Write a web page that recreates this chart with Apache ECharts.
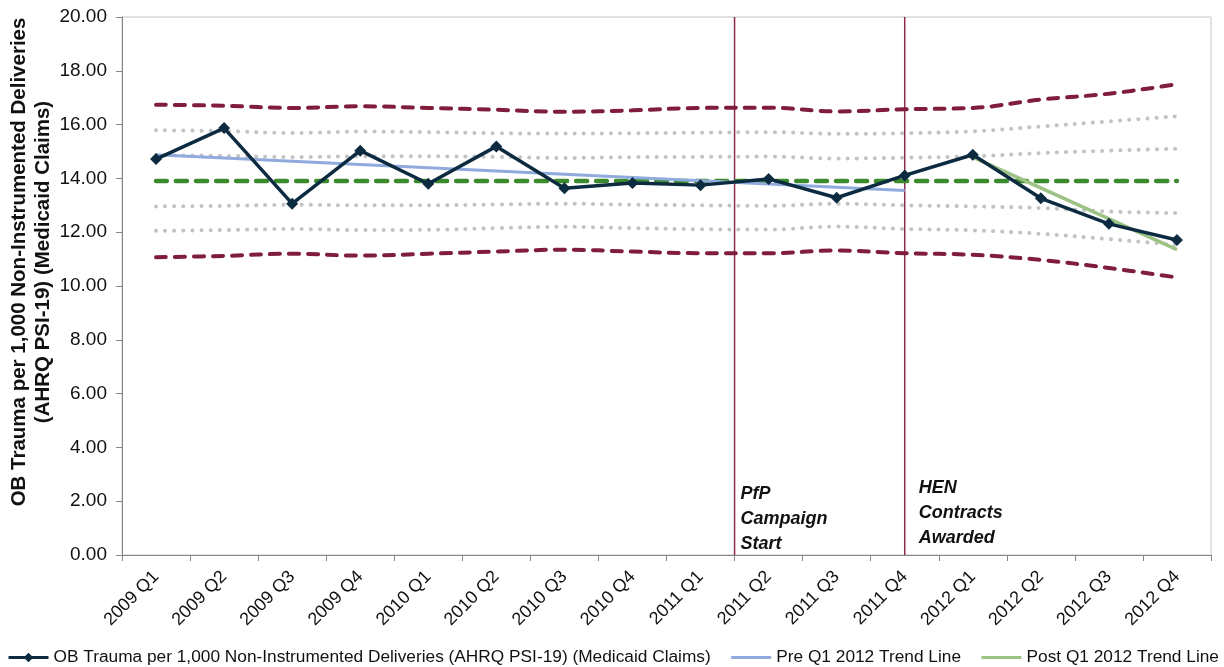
<!DOCTYPE html>
<html>
<head>
<meta charset="utf-8">
<script src="https://cdn.jsdelivr.net/npm/echarts@6/dist/echarts.min.js"></script>
<style>
html,body{margin:0;padding:0;background:#fff;}
#chart{width:1224px;height:667px;}
</style>
</head>
<body>
<div id="chart"></div>
<script>
const categories = ['2009 Q1','2009 Q2','2009 Q3','2009 Q4','2010 Q1','2010 Q2','2010 Q3','2010 Q4',
  '2011 Q1','2011 Q2','2011 Q3','2011 Q4','2012 Q1','2012 Q2','2012 Q3','2012 Q4'];
const obTrauma = [14.72,15.87,13.06,15.03,13.80,15.19,13.63,13.83,13.75,13.98,13.28,14.11,14.88,13.26,12.31,11.71];
const meanLine = [13.90,13.90,13.90,13.90,13.90,13.90,13.90,13.90,13.90,13.90,13.90,13.90,13.90,13.90,13.90,13.90];
const ucl = [16.74,16.70,16.62,16.68,16.62,16.55,16.48,16.53,16.62,16.63,16.49,16.57,16.62,16.93,17.15,17.50];
const plus2 = [15.79,15.76,15.69,15.74,15.72,15.68,15.67,15.68,15.70,15.72,15.66,15.68,15.75,15.93,16.12,16.31];
const plus1 = [14.86,14.84,14.79,14.82,14.82,14.80,14.76,14.79,14.80,14.81,14.74,14.77,14.82,14.94,15.03,15.10];
const minus1 = [12.96,12.98,13.02,13.00,13.00,13.03,13.06,13.02,13.00,12.98,13.06,13.00,12.96,12.90,12.77,12.71];
const minus2 = [12.05,12.08,12.12,12.08,12.09,12.15,12.20,12.15,12.11,12.10,12.21,12.12,12.07,11.94,11.74,11.53];
const lcl = [11.07,11.12,11.20,11.13,11.20,11.28,11.35,11.28,11.22,11.22,11.32,11.22,11.16,10.97,10.67,10.32];
const preTrend = [14.88,null,null,null,null,null,null,null,null,null,null,13.55,null,null,null,null];
const postTrend = [null,null,null,null,null,null,null,null,null,null,null,null,14.79,null,null,11.35];
const yTicks = [0,2,4,6,8,10,12,14,16,18,20];
// event positions on a 0..16 category-slot scale
const pfpPos = 9;      // boundary between 2011 Q1 and 2011 Q2
const henPos = 11.5;   // 2011 Q4
const pfpText = 'PfP\nCampaign\nStart';
const henText = 'HEN\nContracts\nAwarded';
const mainName = 'OB Trauma per 1,000 Non-Instrumented Deliveries (AHRQ PSI-19) (Medicaid Claims)';
const preName = 'Pre Q1 2012 Trend Line';
const postName = 'Post Q1 2012 Trend Line';
const yAxisTitle = 'OB Trauma per 1,000 Non-Instrumented Deliveries\n(AHRQ PSI-19) (Medicaid Claims)';

const FONT = '"Liberation Sans", Arial, sans-serif';
const chart = echarts.init(document.getElementById('chart'));

function band(data, color, width, dash, name) {
  return {
    name: name, type: 'line', data: data, smooth: 0.4, symbol: 'none', silent: true,
    lineStyle: { color: color, width: width, type: dash, cap: 'round' }, z: 2
  };
}
function eventLine(pos, text, dx, yTop) {
  return {
    type: 'line', xAxisIndex: 1, yAxisIndex: 0, symbol: 'none', silent: true,
    data: [[pos, 0], [pos, 20]],
    lineStyle: { color: '#8e2a4f', width: 1.5 }, z: 1,
    markPoint: {
      symbol: 'circle', symbolSize: 0, silent: true,
      data: [{ coord: [pos, yTop] }],
      label: {
        show: true, formatter: text, position: [dx, 0], align: 'left', verticalAlign: 'top',
        fontFamily: FONT, fontSize: 18, fontWeight: 'bold', fontStyle: 'italic',
        color: '#111', lineHeight: 25
      }
    }
  };
}

chart.setOption({
  animation: false,
  backgroundColor: '#fff',
  textStyle: { fontFamily: FONT },
  grid: { left: 122, right: 13, top: 17, bottom: 112, show: true, borderColor: '#c4c4c4', borderWidth: 1 },
  legend: {
    data: [
      { name: mainName },
      { name: preName, itemStyle: { opacity: 0 } },
      { name: postName, itemStyle: { opacity: 0 } }
    ],
    left: 2, right: 0, top: 644, itemWidth: 40, itemHeight: 12, itemGap: 19,
    lineStyle: { width: 3 },
    textStyle: { fontFamily: FONT, fontSize: 17.3, color: '#111' }
  },
  graphic: [{
    type: 'text',
    x: 31, y: 262,
    rotation: Math.PI / 2,
    style: {
      text: yAxisTitle,
      font: 'bold 20.5px ' + FONT, fill: '#111', align: 'center', verticalAlign: 'middle', lineHeight: 24
    }
  }],
  xAxis: [{
    type: 'category', data: categories, boundaryGap: true,
    axisLine: { lineStyle: { color: '#868686' } },
    axisTick: { show: true, length: 6, lineStyle: { color: '#868686' } },
    axisLabel: { rotate: 45, interval: 0, fontSize: 18, color: '#111', margin: 19, fontFamily: FONT }
  }, {
    type: 'value', min: 0, max: 16, show: false
  }],
  yAxis: [{
    type: 'value', min: 0, max: 20, interval: 2,
    axisLine: { show: true, lineStyle: { color: '#868686' } },
    axisTick: { show: true, length: 6, lineStyle: { color: '#868686' } },
    splitLine: { show: false },
    axisLabel: { fontSize: 19, color: '#111', margin: 15, fontFamily: FONT,
      formatter: v => (yTicks.indexOf(v) >= 0 ? v.toFixed(2) : '') }
  }],
  series: [
    band(ucl, '#7f1d3b', 4, [10, 9], 'UCL'),
    band(lcl, '#7f1d3b', 4, [10, 9], 'LCL'),
    band(plus2, '#c3c3c3', 4, [0.1, 9], '+2 Sigma'),
    band(plus1, '#c3c3c3', 4, [0.1, 9], '+1 Sigma'),
    band(minus1, '#c3c3c3', 4, [0.1, 9], '-1 Sigma'),
    band(minus2, '#c3c3c3', 4, [0.1, 9], '-2 Sigma'),
    band(meanLine, '#3c8a2e', 4.5, [11, 9], 'Mean'),
    eventLine(pfpPos, pfpText, 6, 2.72),
    eventLine(henPos, henText, 14, 2.94),
    {
      name: preName, type: 'line', data: preTrend, connectNulls: true, symbol: 'none',
      lineStyle: { color: '#8faadc', width: 3 }, itemStyle: { color: '#8faadc' }, z: 4
    },
    {
      name: postName, type: 'line', data: postTrend, connectNulls: true, symbol: 'none',
      lineStyle: { color: '#9dc384', width: 3.5 }, itemStyle: { color: '#9dc384' }, z: 4
    },
    {
      name: mainName, type: 'line', data: obTrauma, symbol: 'diamond', symbolSize: 12,
      lineStyle: { color: '#0c2b40', width: 3.5 }, itemStyle: { color: '#0c2b40' }, z: 5
    }
  ]
});
</script>
</body>
</html>
